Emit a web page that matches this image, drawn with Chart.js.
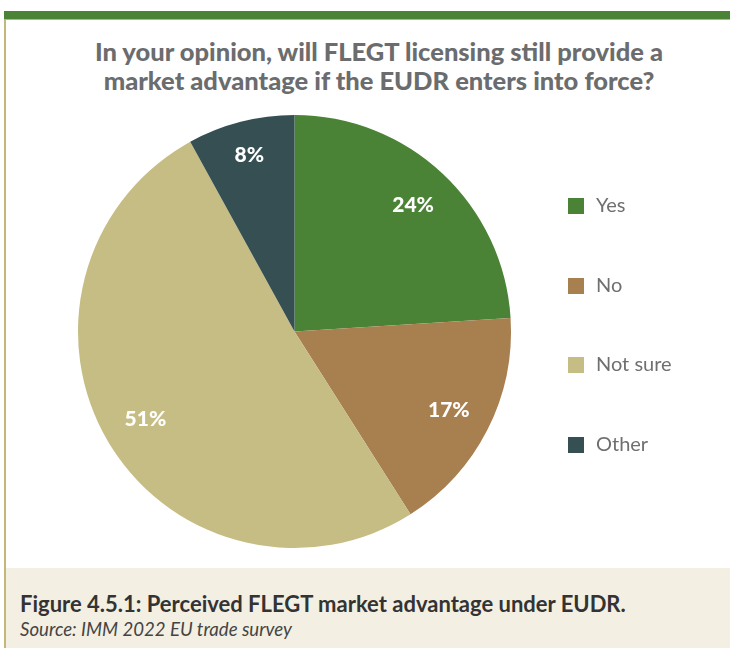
<!DOCTYPE html>
<html>
<head>
<meta charset="utf-8">
<script src="https://cdn.jsdelivr.net/npm/chart.js@4/dist/chart.umd.min.js"></script>
<style>
  html, body { margin: 0; padding: 0; background: #ffffff; }
  #page { position: relative; width: 730px; height: 648px; overflow: hidden; background: #ffffff; }
  #topbar { position: absolute; left: 4px; top: 11px; width: 726px; height: 8px; background: #4a8336; border-bottom: 1px solid #9cc08a; }
  #leftrule { position: absolute; left: 4px; top: 20px; width: 2px; height: 628px; background: #c4b77a; }
  #title { position: absolute; left: 0; top: 37px; width: 758px; text-align: center;
           font-family: "Lato", "Open Sans", sans-serif; font-weight: 900; font-size: 25.5px; line-height: 29px; color: #6b6c6e; }
  #footer { position: absolute; left: 6px; top: 568px; width: 724px; height: 80px; background: #f3efe3; }
  #caption { position: absolute; left: 14px; top: 22px; font-family: "Lato", sans-serif; font-weight: 700; font-size: 22px; color: #333333; white-space: nowrap; }
  #source { position: absolute; left: 14px; top: 50px; font-family: "Lato", sans-serif; font-style: italic; font-size: 18.6px; color: #444444; white-space: nowrap; }
  #chart { position: absolute; left: 0; top: 0; }
</style>
</head>
<body>
<div id="page">
  <div id="topbar"></div>
  <div id="leftrule"></div>
  <div id="title">In your opinion, will FLEGT licensing still provide a<br>market advantage if the EUDR enters into force?</div>
  <div id="footer">
    <div id="caption">Figure 4.5.1: Perceived FLEGT market advantage under EUDR.</div>
    <div id="source">Source: IMM 2022 EU trade survey</div>
  </div>
  <canvas id="chart" width="730" height="648"></canvas>
</div>
<script>
// Survey answers and their shares (%)
const categories = ["Yes", "No", "Not sure", "Other"];
const shares = [24, 17, 51, 8];
const sliceColors = ["#4a8336", "#a87f4f", "#c6bd84", "#364f52"];

// Percent labels placed near the outer edge of each slice
const sliceLabels = {
  id: "sliceLabels",
  afterDatasetsDraw(chart) {
    const ctx = chart.ctx;
    const meta = chart.getDatasetMeta(0);
    ctx.save();
    ctx.fillStyle = "#ffffff";
    ctx.font = "900 21px Lato, 'Open Sans', sans-serif";
    ctx.textAlign = "center";
    ctx.textBaseline = "middle";
    meta.data.forEach((arc, i) => {
      const p = arc.getProps(["x", "y", "startAngle", "endAngle", "outerRadius"], true);
      const mid = (p.startAngle + p.endAngle) / 2;
      const r = p.outerRadius * (i === 3 ? 0.84 : 0.80);
      ctx.fillText(chart.data.datasets[0].data[i] + "%", p.x + Math.cos(mid) * r, p.y + Math.sin(mid) * r);
    });
    ctx.restore();
  }
};

// Vertical legend to the right of the pie
const sideLegend = {
  id: "sideLegend",
  afterDraw(chart) {
    const ctx = chart.ctx;
    const ds = chart.data.datasets[0];
    const x0 = 568, y0 = 206, step = 79.5, box = 16;
    ctx.save();
    ctx.font = "400 20px Lato, 'Open Sans', sans-serif";
    ctx.textBaseline = "middle";
    ctx.textAlign = "left";
    chart.data.labels.forEach((lab, i) => {
      const y = y0 + i * step;
      ctx.fillStyle = ds.backgroundColor[i];
      ctx.fillRect(x0, Math.round(y - box / 2), box, box);
      ctx.fillStyle = "#6f6f71";
      ctx.fillText(lab, x0 + 28, y);
    });
    ctx.restore();
  }
};

new Chart(document.getElementById("chart"), {
  type: "pie",
  data: {
    labels: categories,
    datasets: [{
      data: shares,
      backgroundColor: sliceColors,
      borderWidth: 0,
      hoverOffset: 0
    }]
  },
  options: {
    responsive: false,
    animation: false,
    layout: { padding: { left: 78, top: 115, right: 219, bottom: 100 } },
    plugins: {
      legend: { display: false },
      tooltip: { enabled: false }
    }
  },
  plugins: [sliceLabels, sideLegend]
});
</script>
</body>
</html>
